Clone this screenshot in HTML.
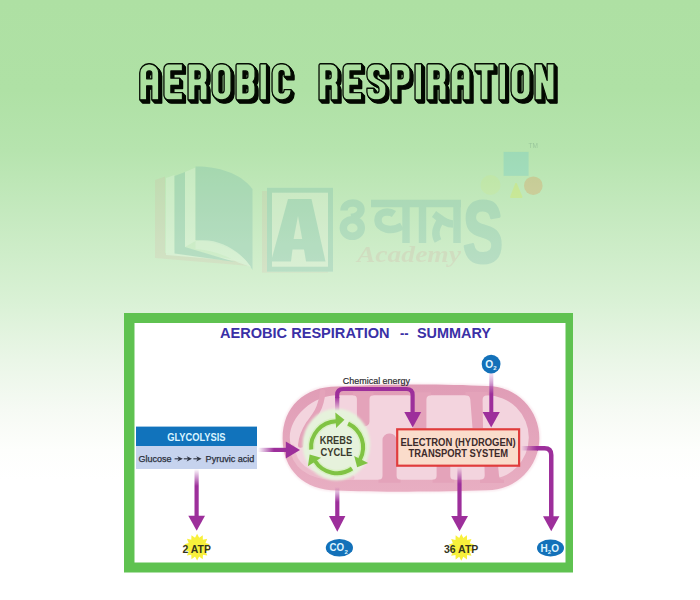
<!DOCTYPE html>
<html>
<head>
<meta charset="utf-8">
<title>Aerobic Respiration</title>
<style>
html,body{margin:0;padding:0;}
body{width:700px;height:600px;overflow:hidden;background:#fff;font-family:"Liberation Sans",sans-serif;}
#bg{position:absolute;left:0;top:0;width:700px;height:600px;
background:linear-gradient(to bottom,#aee0a3 0px,#afe1a5 90px,#b6e4ae 150px,#c4e9be 210px,#d9f1d5 300px,#eaf6e7 360px,#f6faf4 410px,#fdfefc 450px,#ffffff 480px,#ffffff 600px);}
svg{position:absolute;left:0;top:0;}
text{font-family:"Liberation Sans",sans-serif;}
text.scr{font-family:"Liberation Serif",serif;font-style:italic;font-weight:bold;}
</style>
</head>
<body>
<div id="bg"></div>
<svg width="700" height="600" viewBox="0 0 700 600">
<defs>
<path id="gA" d="M0,36.8 L0,9.5 A9.5,9.5 0 0 1 9.5,0 L10.5,0 A9.5,9.5 0 0 1 20,9.5 L20,36.8 L12.7,36.8 L12.7,22.5 L7.3,22.5 L7.3,36.8 Z M7.3,15.4 L7.3,9.5 A2.2,2.2 0 0 1 9.5,7.3 L10.5,7.3 A2.2,2.2 0 0 1 12.7,9.5 L12.7,15.4 Z" fill-rule="evenodd"/>
<path id="gE" d="M5,0 L19.5,0 L19.5,7.3 L7.3,7.3 L7.3,14.7 L16.5,14.7 L16.5,22 L7.3,22 L7.3,29.5 L19.5,29.5 L19.5,36.8 L5,36.8 A5,5 0 0 1 0,31.8 L0,5 A5,5 0 0 1 5,0 Z" fill-rule="evenodd"/>
<path id="gR" d="M0,36.8 L0,1.5 A1.5,1.5 0 0 1 1.5,0 L12,0 A8,8 0 0 1 20,8 L20,14.5 Q20,18 18,19.3 Q20,20.6 20,23.5 L20,36.8 L12.7,36.8 L12.7,22.5 L7.3,22.5 L7.3,36.8 Z M7.3,15.4 L7.3,7.3 L10.5,7.3 A2.2,2.2 0 0 1 12.7,9.5 L12.7,13.2 A2.2,2.2 0 0 1 10.5,15.4 Z" fill-rule="evenodd"/>
<path id="gO" d="M9,0 L11,0 A9,9 0 0 1 20,9 L20,27.8 A9,9 0 0 1 11,36.8 L9,36.8 A9,9 0 0 1 0,27.8 L0,9 A9,9 0 0 1 9,0 Z M7.3,9.5 A2.5,2.5 0 0 1 9.8,7 L10.2,7 A2.5,2.5 0 0 1 12.7,9.5 L12.7,27.3 A2.5,2.5 0 0 1 10.2,29.8 L9.8,29.8 A2.5,2.5 0 0 1 7.3,27.3 Z" fill-rule="evenodd"/>
<path id="gB" d="M0,1.5 A1.5,1.5 0 0 1 1.5,0 L13,0 A7,7 0 0 1 20,7 L20,13 Q20,17 17.8,18.4 Q20,19.8 20,23.8 L20,29.8 A7,7 0 0 1 13,36.8 L1.5,36.8 A1.5,1.5 0 0 1 0,35.3 Z M7.3,7.3 L10.3,7.3 A2.2,2.2 0 0 1 12.5,9.5 L12.5,12.8 A2.2,2.2 0 0 1 10.3,15 L7.3,15 Z M7.3,22 L10.3,22 A2.2,2.2 0 0 1 12.5,24.2 L12.5,27.6 A2.2,2.2 0 0 1 10.3,29.8 L7.3,29.8 Z" fill-rule="evenodd"/>
<path id="gI" d="M0.8,0 L6.1,0 Q6.9,0 6.9,0.8 L6.9,36 Q6.9,36.8 6.1,36.8 L0.8,36.8 Q0,36.8 0,36 L0,0.8 Q0,0 0.8,0 Z" fill-rule="evenodd"/>
<path id="gC" d="M9,0 L11,0 A9,9 0 0 1 20,9 L20,13 L12.7,13 L12.7,9.5 A2.5,2.5 0 0 0 10.2,7 L9.8,7 A2.5,2.5 0 0 0 7.3,9.5 L7.3,27.3 A2.5,2.5 0 0 0 9.8,29.8 L10.2,29.8 A2.5,2.5 0 0 0 12.7,27.3 L12.7,26.5 L20,26.5 L20,27.8 A9,9 0 0 1 11,36.8 L9,36.8 A9,9 0 0 1 0,27.8 L0,9 A9,9 0 0 1 9,0 Z" fill-rule="evenodd"/>
<path id="gS" d="M8,0 L12,0 A8,8 0 0 1 20,8 L20,12 L12.7,12 L12.7,9.5 A2.5,2.5 0 0 0 10.2,7 L9.8,7 A2.5,2.5 0 0 0 7.3,9.5 L7.3,11 C7.3,13.5 9,14.5 11,15.5 L15,17.5 C18.5,19.2 20,21 20,24.5 L20,28.8 A8,8 0 0 1 12,36.8 L8,36.8 A8,8 0 0 1 0,28.8 L0,25 L7.3,25 L7.3,27.3 A2.5,2.5 0 0 0 9.8,29.8 L10.2,29.8 A2.5,2.5 0 0 0 12.7,27.3 L12.7,25.5 C12.7,23.5 11.5,22.5 9.5,21.5 L5,19.3 C1.5,17.6 0,15.5 0,12 L0,8 A8,8 0 0 1 8,0 Z" fill-rule="evenodd"/>
<path id="gP" d="M0,36.8 L0,1.5 A1.5,1.5 0 0 1 1.5,0 L12,0 A8,8 0 0 1 20,8 L20,14.5 A8,8 0 0 1 12,22.5 L7.3,22.5 L7.3,36.8 Z M7.3,15.4 L7.3,7.3 L10.5,7.3 A2.2,2.2 0 0 1 12.7,9.5 L12.7,13.2 A2.2,2.2 0 0 1 10.5,15.4 Z" fill-rule="evenodd"/>
<path id="gT" d="M0,0 H20 V7.3 H13.65 V36.8 H6.35 V7.3 H0 Z" fill-rule="evenodd"/>
<path id="gN" d="M0,0 H7.3 L12.7,17 V0 H20 V36.8 H12.7 L7.3,19.8 V36.8 H0 Z" fill-rule="evenodd"/>
<g id="word"><use href="#gA" transform="translate(139.75,63.75) scale(0.95,0.98)"/><use href="#gE" transform="translate(163.95,63.75) scale(0.95,0.98)"/><use href="#gR" transform="translate(188.05,63.75) scale(0.95,0.98)"/><use href="#gO" transform="translate(212.05,63.75) scale(0.95,0.98)"/><use href="#gB" transform="translate(236.05,63.75) scale(0.95,0.98)"/><use href="#gI" transform="translate(259.95,63.75) scale(0.95,0.98)"/><use href="#gC" transform="translate(272.05,63.75) scale(0.95,0.98)"/><use href="#gR" transform="translate(319.05,63.75) scale(0.95,0.98)"/><use href="#gE" transform="translate(343.05,63.75) scale(0.95,0.98)"/><use href="#gS" transform="translate(366.95,63.75) scale(0.95,0.98)"/><use href="#gP" transform="translate(391.05,63.75) scale(0.95,0.98)"/><use href="#gI" transform="translate(415.05,63.75) scale(0.95,0.98)"/><use href="#gR" transform="translate(427.05,63.75) scale(0.95,0.98)"/><use href="#gA" transform="translate(451.05,63.75) scale(0.95,0.98)"/><use href="#gT" transform="translate(475.05,63.75) scale(0.95,0.98)"/><use href="#gI" transform="translate(499.05,63.75) scale(0.95,0.98)"/><use href="#gO" transform="translate(511.05,63.75) scale(0.95,0.98)"/><use href="#gN" transform="translate(535.05,63.75) scale(0.95,0.98)"/></g>
<linearGradient id="fadeR" x1="258" y1="0" x2="274" y2="0" gradientUnits="userSpaceOnUse"><stop offset="0" stop-color="#9d2f9b" stop-opacity="0"/><stop offset="1" stop-color="#9d2f9b"/></linearGradient>
<linearGradient id="fadeCh" x1="0" y1="411" x2="0" y2="397" gradientUnits="userSpaceOnUse"><stop offset="0" stop-color="#9d2f9b" stop-opacity="0"/><stop offset="1" stop-color="#9d2f9b"/></linearGradient>
<linearGradient id="fadeO2" x1="0" y1="372" x2="0" y2="394" gradientUnits="userSpaceOnUse"><stop offset="0" stop-color="#c98ccc" stop-opacity="0.2"/><stop offset="1" stop-color="#9d2f9b"/></linearGradient>
<linearGradient id="fadeA1" x1="0" y1="469" x2="0" y2="486" gradientUnits="userSpaceOnUse"><stop offset="0" stop-color="#9d2f9b" stop-opacity="0"/><stop offset="1" stop-color="#9d2f9b"/></linearGradient>
<linearGradient id="fadeA2" x1="0" y1="487" x2="0" y2="502" gradientUnits="userSpaceOnUse"><stop offset="0" stop-color="#9d2f9b" stop-opacity="0"/><stop offset="1" stop-color="#9d2f9b"/></linearGradient>
<linearGradient id="fadeA3" x1="0" y1="467" x2="0" y2="484" gradientUnits="userSpaceOnUse"><stop offset="0" stop-color="#9d2f9b" stop-opacity="0"/><stop offset="1" stop-color="#9d2f9b"/></linearGradient>
<linearGradient id="fadeH" x1="521" y1="0" x2="537" y2="0" gradientUnits="userSpaceOnUse"><stop offset="0" stop-color="#9d2f9b" stop-opacity="0"/><stop offset="1" stop-color="#9d2f9b"/></linearGradient>
<linearGradient id="mitoG" x1="0" y1="386" x2="0" y2="491" gradientUnits="userSpaceOnUse"><stop offset="0" stop-color="#e09db6"/><stop offset="1" stop-color="#e8aec2"/></linearGradient>
<filter id="soft" x="-10%" y="-10%" width="120%" height="120%"><feGaussianBlur stdDeviation="0.8"/></filter>
<filter id="soft2" x="-10%" y="-10%" width="120%" height="120%"><feGaussianBlur stdDeviation="0.5"/></filter>
<clipPath id="mitoClip"><rect x="283" y="386" width="256.5" height="104.5" rx="52.25" ry="52.25"/></clipPath>
</defs>

<!-- watermark -->
<g id="wm">
<g opacity="0.2">
<path d="M155,180 L165,176.5 L165,253 L235,260 L250,266 L155,258 Z" fill="#e8607a" opacity="0.42"/>
<path d="M166,178 L174.5,175 L174.5,250 L250,262 L166,255 Z" fill="#ffffff" opacity="0.9"/>
<path d="M174.5,176 L185,172 L185,247 L235,262 L174.5,253.5 Z" fill="#56a3a5"/>
<path d="M185,172 L195.5,167.5 L195.5,241 L185,247 Z" fill="#ffffff" opacity="0.9"/>
<path d="M195.5,166.5 C215,166 240,172 252.5,189 L252.5,270 C243,252 220,242 195.5,240 Z" fill="#56a3a5"/>
<path d="M195.5,241 C215,237 238,248 251,267 L238,262.5 C224,254 210,250 195.5,249 Z" fill="#ffffff" opacity="0.85"/>
<rect x="262" y="191" width="66" height="81.6" fill="#e8607a" opacity="0.42"/>
<rect x="267" y="187.7" width="66" height="84" fill="#ffffff" opacity="0.8"/>
<rect x="269.5" y="190.2" width="61" height="79" fill="none" stroke="#56a3a5" stroke-width="5"/>
<path d="M288,199 L311.5,199 L325.5,261.5 L306,261.5 L304,249.5 L292.5,249.5 L291,261.5 L271,261.5 Z M298,216 L293.6,239 L302.2,239 Z" fill="#56a3a5" fill-rule="evenodd"/>
<g fill="none" stroke="#56a3a5" stroke-width="7.5" stroke-linecap="butt" stroke-linejoin="round">
<path d="M344,210.5 C344,201 361,200.5 361,209.5 C361,214.5 356,217 351,217.5"/>
<ellipse cx="352.3" cy="228" rx="9" ry="8.3"/>
<path d="M371,203.5 H461"/>
<path d="M406,203 V243"/>
<path d="M402,226 C392,232 378,230 378,220 C378,212 388,210 394,214"/>
<path d="M422.5,203 V243"/>
<path d="M457,203 V243"/>
<path d="M453,224 C445,224 440,218 434,214 M440,221 C436,228 434,234 438,241"/>
</g>
<text x="463" y="261.5" font-size="87" font-weight="bold" fill="#56a3a5" stroke="#56a3a5" stroke-width="3" stroke-linejoin="round" textLength="40" lengthAdjust="spacingAndGlyphs">S</text>
<text x="357" y="262" class="scr" font-size="24" fill="#e05070" opacity="0.5" textLength="104" lengthAdjust="spacingAndGlyphs">Academy</text>
</g>
<rect x="503.6" y="151.9" width="25" height="23.9" fill="#3cb4d8" opacity="0.2"/>
<circle cx="533.3" cy="185.7" r="9.3" fill="#e67f3c" opacity="0.25"/>
<circle cx="490.5" cy="185" r="10" fill="#d7ec65" opacity="0.15"/>
<path d="M511,197 L516,184 L521.5,197 Z" fill="#dbe849" opacity="0.3" stroke="#dbe849" stroke-width="2" stroke-linejoin="round"/>
<text x="528.5" y="148" font-size="6.5" fill="#6f9a80" opacity="0.4">TM</text>
</g>

<!-- title -->
<g id="title">
<use href="#word" transform="translate(3.00,3.30)" fill="#050a03" stroke="#050a03" stroke-width="1.3" stroke-linejoin="round"/>
<use href="#word" transform="translate(2.57,2.83)" fill="#050a03" stroke="#050a03" stroke-width="1.3" stroke-linejoin="round"/>
<use href="#word" transform="translate(2.14,2.36)" fill="#050a03" stroke="#050a03" stroke-width="1.3" stroke-linejoin="round"/>
<use href="#word" transform="translate(1.71,1.89)" fill="#050a03" stroke="#050a03" stroke-width="1.3" stroke-linejoin="round"/>
<use href="#word" transform="translate(1.29,1.41)" fill="#050a03" stroke="#050a03" stroke-width="1.3" stroke-linejoin="round"/>
<use href="#word" transform="translate(0.86,0.94)" fill="#050a03" stroke="#050a03" stroke-width="1.3" stroke-linejoin="round"/>
<use href="#word" transform="translate(0.43,0.47)" fill="#050a03" stroke="#050a03" stroke-width="1.3" stroke-linejoin="round"/>
<use href="#word" fill="#ace0a0" stroke="#050d03" stroke-width="1.3" stroke-linejoin="round"/>
</g>

<!-- diagram frame -->
<rect x="124" y="313" width="449" height="259.5" fill="#5fc250"/>
<rect x="134.5" y="323" width="431" height="239.5" fill="#ffffff"/>

<!-- diagram title -->
<g font-size="15.3" font-weight="bold" fill="#3a30a6">
<text x="220" y="337.7" textLength="169.6" lengthAdjust="spacingAndGlyphs">AEROBIC RESPIRATION</text>
<text x="400" y="337.7" textLength="8.6" lengthAdjust="spacingAndGlyphs">--</text>
<text x="417" y="337.7" textLength="74" lengthAdjust="spacingAndGlyphs">SUMMARY</text>
</g>

<!-- mitochondrion -->
<g id="mito">
<path d="M337,386.6 C370,384.2 440,383.4 487.2,386 A52.15,52.15 0 0 1 487.2,490.3 C440,492.2 370,492 337,490.4 C304.3,490.4 282.6,469.8 282.6,438.5 C282.6,407.2 304.3,386.6 337,386.6 Z" fill="none" stroke="#f8e3ea" stroke-width="2" filter="url(#soft)"/>
<path d="M337,386.6 C370,384.2 440,383.4 487.2,386 A52.15,52.15 0 0 1 487.2,490.3 C440,492.2 370,492 337,490.4 C304.3,490.4 282.6,469.8 282.6,438.5 C282.6,407.2 304.3,386.6 337,386.6 Z" fill="url(#mitoG)"/>
<path d="M337,395.2 H486.5 A42.3,42.3 0 0 1 486.5,479.8 H337 C313.4,479.8 289.8,458.65 289.8,437.5 C289.8,416.35 313.4,395.2 337,395.2 Z" fill="#f3d4de"/>
<path d="M292.3,447 C293.5,463 306,477.3 337,477.5 L352,477.5" fill="none" stroke="#ecbccc" stroke-width="5" stroke-linecap="round" opacity="0.9"/>
<path d="M322.5,392 C322,400 320,406 317.4,411 C314.5,416.5 311,420.5 308.5,424 C305,429.5 301.5,437 300.8,445" fill="none" stroke="#e4a3ba" stroke-width="5.6" stroke-linecap="round"/>
<path d="M352.9,392.2 L352.9,395.2 Q356.9,395.2 356.9,399.2 L356.9,421.5 A5,5 0 0 0 361.9,426.5 L364.5,426.5 A5,5 0 0 0 369.5,421.5 L369.5,399.2 Q369.5,395.2 373.5,395.2 L373.5,392.2 Z" fill="#e4a3ba"/>
<path d="M378.5,482.8 L378.5,479.8 Q382.5,479.8 382.5,475.8 L382.5,440 A6.5,6.5 0 0 1 389,433.5 L390.1,433.5 A6.5,6.5 0 0 1 396.6,440 L396.6,475.8 Q396.6,479.8 400.6,479.8 L400.6,482.8 Z" fill="#e4a3ba"/>
<path d="M408.7,392.2 L408.7,395.2 Q413.2,395.2 413.2,399.7 L413.2,440 A5,5 0 0 0 418.2,445 L421.4,445 A5,5 0 0 0 426.4,440 L426.4,399.7 Q426.4,395.2 430.9,395.2 L430.9,392.2 Z" fill="#e4a3ba"/>
<path d="M432.6,482.8 L432.6,479.8 Q436.6,479.8 436.6,475.8 L436.6,457 A5,5 0 0 1 441.6,452 L445.3,452 A5,5 0 0 1 450.3,457 L450.3,475.8 Q450.3,479.8 454.3,479.8 L454.3,482.8 Z" fill="#e4a3ba"/>
<path d="M465.5,392 L465.5,395.2 Q470,395.2 470.3,399.5 L472.5,428 L483,428 L482.6,400 Q482.4,395.2 487.5,395.2 L487.5,392 Z" fill="#e4a3ba"/>
<path d="M480,483 L480,479.8 Q484.6,479.8 484.7,475.5 L484.2,455 L497,455 L499,475.5 Q499.4,479.8 504,479.8 L504,483 Z" fill="#e4a3ba"/>
</g>

<!-- krebs -->
<g id="krebs">
<ellipse cx="336.4" cy="444.6" rx="33.8" ry="36" fill="#e6f2dc" filter="url(#soft)"/>
<path d="M311.2,449.47 A26.0,26.0 0 0 1 336.19,421.22" fill="none" stroke="#d6efbe" stroke-width="7" opacity="0.8"/>
<path d="M348.09,423.64 A26.0,26.0 0 0 1 360.06,459.41" fill="none" stroke="#d6efbe" stroke-width="7" opacity="0.8"/>
<path d="M352.01,468.5 A26.0,26.0 0 0 1 315.05,460.98" fill="none" stroke="#d6efbe" stroke-width="7" opacity="0.8"/>
<path d="M311.2,449.47 A26.0,26.0 0 0 1 336.19,421.22" fill="none" stroke="#80c343" stroke-width="4"/>
<path d="M348.09,423.64 A26.0,26.0 0 0 1 360.06,459.41" fill="none" stroke="#80c343" stroke-width="4"/>
<path d="M352.01,468.5 A26.0,26.0 0 0 1 315.05,460.98" fill="none" stroke="#80c343" stroke-width="4"/>
<polygon points="335.28,412.45 336.1,428.03 344.47,419.78" fill="#80c343"/>
<polygon points="368.11,463 354.21,455.92 357.16,467.3" fill="#80c343"/>
<polygon points="307.91,466.15 321,457.66 309.66,454.52" fill="#80c343"/>
<text x="319.8" y="443.8" font-size="10" font-weight="bold" fill="#3a3a2c" textLength="32.3" lengthAdjust="spacingAndGlyphs">KREBS</text>
<text x="320.5" y="455.5" font-size="10" font-weight="bold" fill="#3a3a2c" textLength="31.8" lengthAdjust="spacingAndGlyphs">CYCLE</text>
</g>

<!-- ETS box -->
<rect x="397.2" y="429.3" width="121.9" height="36.4" fill="#fadccb" stroke="#e03c3c" stroke-width="2.2"/>
<text x="400.4" y="445.7" font-size="10" font-weight="bold" fill="#3d2a2a" textLength="115.3" lengthAdjust="spacingAndGlyphs">ELECTRON (HYDROGEN)</text>
<text x="408.6" y="456.8" font-size="10" font-weight="bold" fill="#3d2a2a" textLength="99.6" lengthAdjust="spacingAndGlyphs">TRANSPORT SYSTEM</text>

<!-- glycolysis box -->
<rect x="136" y="426.6" width="121" height="19.6" fill="#1173bc"/>
<rect x="136" y="446" width="121" height="23" fill="#c6d3ee"/>
<text x="167.2" y="441" font-size="10.3" font-weight="bold" fill="#d9f3ff" textLength="58.4" lengthAdjust="spacingAndGlyphs">GLYCOLYSIS</text>
<text x="138.4" y="461.6" font-size="8.7" fill="#2a2f3c" stroke="#2a2f3c" stroke-width="0.25" textLength="33" lengthAdjust="spacingAndGlyphs">Glucose</text>
<text x="205.6" y="461.6" font-size="8.7" fill="#2a2f3c" stroke="#2a2f3c" stroke-width="0.25" textLength="48.8" lengthAdjust="spacingAndGlyphs">Pyruvic acid</text>
<g stroke="#2e3340" stroke-width="0.8" fill="#2e3340">
<line x1="174.6" y1="458.8" x2="179.6" y2="458.8" stroke-width="1.1"/>
<polygon points="177.4,456.2 182.8,458.8 177.4,461.40000000000003 179,458.8" stroke="none"/>
<line x1="183.8" y1="458.8" x2="188.8" y2="458.8" stroke-width="1.1"/>
<polygon points="186.6,456.2 192,458.8 186.6,461.40000000000003 188.2,458.8" stroke="none"/>
<line x1="193.4" y1="458.8" x2="198.4" y2="458.8" stroke-width="1.1"/>
<polygon points="196.2,456.2 201.6,458.8 196.2,461.40000000000003 197.8,458.8" stroke="none"/>
</g>

<!-- labels -->
<text x="342.8" y="383.6" font-size="9.6" fill="#2a2a2e" stroke="#2a2a2e" stroke-width="0.2" textLength="67.2" lengthAdjust="spacingAndGlyphs">Chemical energy</text>

<!-- arrows -->
<g id="arrows" fill="#9d2f9b">
<!-- glyc->krebs -->
<rect x="258" y="447.8" width="28.5" height="4.2" fill="url(#fadeR)"/>
<polygon points="285.8,441.5 285.8,458.5 300,450"/>
<!-- chem energy -->
<rect x="335.1" y="397" width="4.2" height="14" fill="url(#fadeCh)"/>
<path d="M337.2,398 V395 Q337.2,389 343.2,389 H406.6 Q412.6,389 412.6,395 V413" fill="none" stroke="#9d2f9b" stroke-width="4.2"/>
<polygon points="404.3,412 421.2,412 412.7,427.6"/>
<!-- O2 -->
<rect x="489.3" y="372" width="4" height="41" fill="url(#fadeO2)"/>
<polygon points="482.6,412 499.8,412 491.2,427.4"/>
<!-- 2ATP -->
<rect x="194.5" y="469" width="4.2" height="47.5" fill="url(#fadeA1)"/>
<polygon points="188.3,515.8 205,515.8 196.7,530.8"/>
<!-- CO2 -->
<rect x="335.2" y="487" width="4.2" height="29.5" fill="url(#fadeA2)"/>
<polygon points="329,516 345.4,516 337.3,531.7"/>
<!-- 36ATP -->
<rect x="457.4" y="467" width="4.2" height="49.5" fill="url(#fadeA3)"/>
<polygon points="451.2,516 468,516 459.5,531.2"/>
<!-- H2O -->
<rect x="521" y="446" width="17" height="4.5" fill="url(#fadeH)"/>
<path d="M537,448.25 H544.5 Q551.25,448.25 551.25,455 V517" fill="none" stroke="#9d2f9b" stroke-width="4.5"/>
<polygon points="543,516.2 559.4,516.2 551.25,531.3"/>
</g>

<!-- O2 -->
<circle cx="491.1" cy="364.1" r="9.4" fill="#1371b9"/>
<text x="485.2" y="367.9" font-size="10.2" font-weight="bold" fill="#e2f6ff">O</text>
<text x="493.2" y="370" font-size="6" font-weight="bold" fill="#e2f6ff">2</text>

<!-- CO2 -->
<ellipse cx="339.4" cy="547.7" rx="13.6" ry="8.8" fill="#1371b9"/>
<text x="329.5" y="551.3" font-size="10" font-weight="bold" fill="#dff5ff" textLength="14.6" lengthAdjust="spacingAndGlyphs">CO</text>
<text x="344.6" y="553.6" font-size="6" font-weight="bold" fill="#dff5ff">2</text>

<!-- H2O -->
<ellipse cx="550.5" cy="548" rx="13.5" ry="8.5" fill="#1371b9"/>
<text x="540.6" y="551.6" font-size="10" font-weight="bold" fill="#dff5ff">H</text>
<text x="547.8" y="553.8" font-size="6" font-weight="bold" fill="#dff5ff">2</text>
<text x="551.2" y="551.6" font-size="10" font-weight="bold" fill="#dff5ff">O</text>

<!-- ATP stars -->
<polygon points="197.1,533.8 199.17,537.84 202.74,535.13 202.91,539.69 207.26,538.85 205.49,543.03 209.77,544.22 206.41,547.2 209.77,550.18 205.49,551.37 207.26,555.55 202.91,554.71 202.74,559.27 199.17,556.56 197.1,560.6 195.03,556.56 191.46,559.27 191.29,554.71 186.94,555.55 188.71,551.37 184.43,550.18 187.79,547.2 184.43,544.22 188.71,543.03 186.94,538.85 191.29,539.69 191.46,535.13 195.03,537.84" fill="#f8f03a" filter="url(#soft2)"/>
<polygon points="461.3,534 463.37,538.04 466.94,535.33 467.11,539.89 471.46,539.05 469.69,543.23 473.97,544.42 470.61,547.4 473.97,550.38 469.69,551.57 471.46,555.75 467.11,554.91 466.94,559.47 463.37,556.76 461.3,560.8 459.23,556.76 455.66,559.47 455.49,554.91 451.14,555.75 452.91,551.57 448.63,550.38 451.99,547.4 448.63,544.42 452.91,543.23 451.14,539.05 455.49,539.89 455.66,535.33 459.23,538.04" fill="#f8f03a" filter="url(#soft2)"/>
<text x="182.6" y="552.5" font-size="10.6" font-weight="bold" fill="#35351c" textLength="28.2" lengthAdjust="spacingAndGlyphs">2 ATP</text>
<text x="443.9" y="552.7" font-size="10.6" font-weight="bold" fill="#35351c" textLength="34.4" lengthAdjust="spacingAndGlyphs">36 ATP</text>
</svg>
</body>
</html>
